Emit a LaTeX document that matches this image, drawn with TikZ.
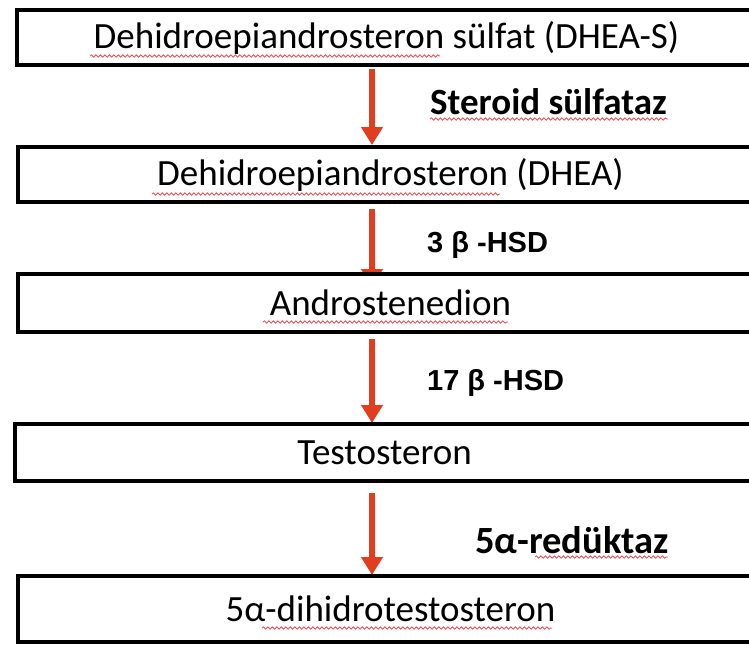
\documentclass[tikz,border=0pt]{standalone}
\usepackage{fontspec}
\setmainfont{Carlito}
\newfontfamily\arialfont{Liberation Sans}
\usetikzlibrary{arrows.meta,calc,decorations.pathmorphing}
\pgfdeclarelayer{bg}
\pgfsetlayers{bg,main}
\definecolor{arrred}{RGB}{224,62,30}
\definecolor{wavered}{RGB}{235,75,80}
\begin{document}
\begin{tikzpicture}[x=1pt,y=1pt,
  stepbox/.style={draw=black,line width=4pt,fill=white,rectangle,inner sep=0pt,
    minimum width=745pt,font=\fontsize{37}{41}\selectfont,anchor=west},
  enz/.style={font=\fontsize{37}{41}\selectfont\bfseries,anchor=west,inner sep=0pt},
  enzarial/.style={font=\fontsize{29}{33}\selectfont\arialfont\bfseries,anchor=west,inner sep=0pt},
  arr/.style={draw=arrred,line width=6.5pt,-{Triangle[width=21pt,length=18pt]}},
  squig/.style={draw=wavered,line width=0.8pt,decorate,decoration={snake,segment length=4.5pt,amplitude=1.2pt}}]
\useasboundingbox (0,0) rectangle (749,-645);
\node[stepbox,minimum height=55pt] (b1) at (15,-37.5) {\hspace*{-6pt}Dehidroepiandrosteron sülfat (DHEA-S)};
\node[stepbox,minimum height=55pt] (b2) at (16,-174.5) {Dehidroepiandrosteron (DHEA)};
\node[stepbox,minimum height=58pt] (b3) at (16,-303) {Androstenedion};
\node[stepbox,minimum height=57pt] (b4) at (13,-452.5) {\hspace*{-6pt}Testosteron};
\node[stepbox,minimum height=66pt] (b5) at (16,-609) {5α-dihidrotestosteron};
\coordinate (ax) at (372,0);
\node[enz] (e1) at (430,-102) {Steroid sülfataz};
\node[enzarial] (e2) at (427,-245) {3 β -HSD};
\node[enzarial] (e3) at (427,-383) {17 β -HSD};
\node[enz,font=\fontsize{38.5}{42}\selectfont\bfseries] (e4) at (475,-540) {5α-redüktaz};
\begin{pgfonlayer}{bg}
\draw[arr,shorten <=2pt] (b1.south -| ax) -- (b2.north -| ax);
\draw[arr,shorten <=5pt] (b2.south -| ax) -- ($(b3.north -| ax)+(0,-15)$);
\draw[arr,shorten <=5pt] (b3.south -| ax) -- ($(b4.north -| ax)+(0,-1)$);
\draw[arr,shorten <=10pt] (b4.south -| ax) -- ($(b5.north -| ax)+(0,-1)$);
\end{pgfonlayer}
% spell-check underlines
\draw[squig] (90,-56) -- (440,-56);
\draw[squig] (430,-119) -- (668,-119);
\draw[squig] (152,-194) -- (500,-194);
\draw[squig] (263,-322) -- (508,-322);
\draw[squig] (535,-557) -- (668,-557);
\draw[squig] (262,-628) -- (552,-628);
\end{tikzpicture}
\end{document}
